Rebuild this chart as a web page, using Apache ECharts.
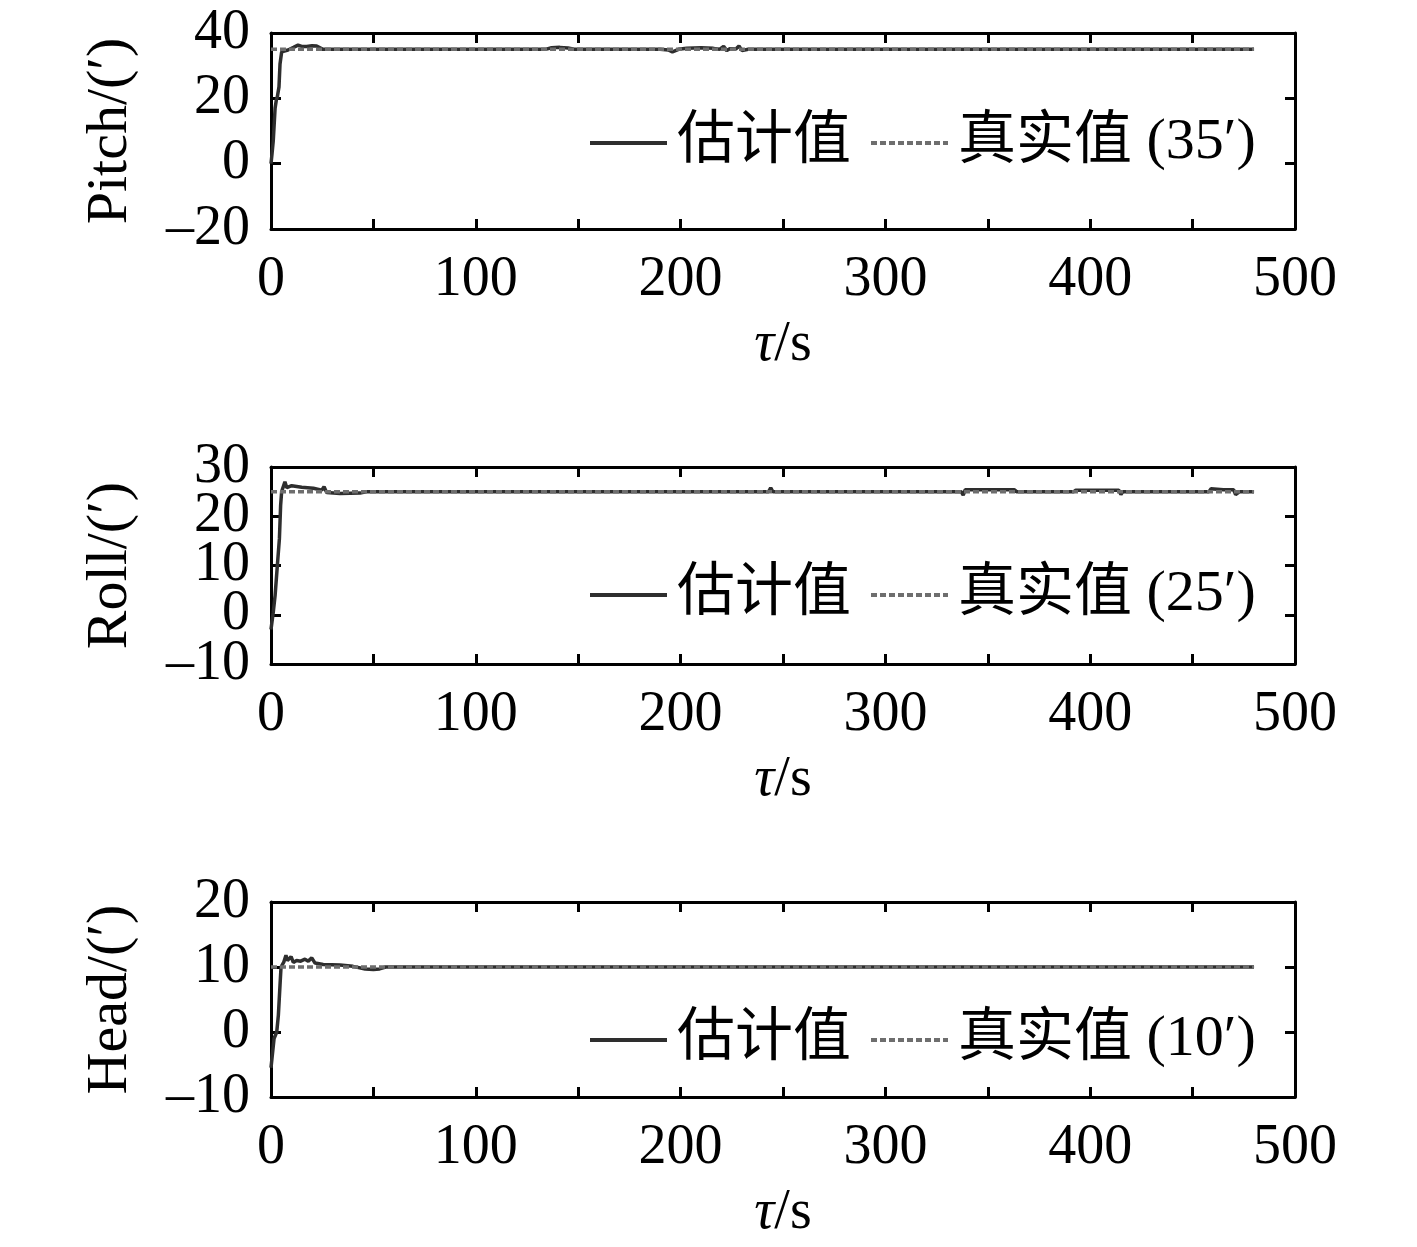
<!DOCTYPE html>
<html>
<head>
<meta charset="utf-8">
<title>Pitch / Roll / Head</title>
<script src="https://cdn.jsdelivr.net/npm/echarts@6/dist/echarts.min.js"></script>
<style>
html, body { margin: 0; padding: 0; background: #fff; }
#main { width: 1417px; height: 1247px; }
</style>
</head>
<body>
<div id="main"></div>
<script>
// 时间 (s) 与估计值 (′)
const pitchTime = [0, 0.5, 1.1, 2, 2.6, 3.1, 3.9, 4.4, 5.2, 8.3, 11, 13.2, 15, 17.4, 20, 22.3, 25.4, 30, 60, 100, 134, 137, 141, 145, 148, 190, 194, 196, 199, 203, 210, 216, 219, 221, 222.5, 224, 227, 228.5, 230, 233, 260, 320, 400, 480];
const pitchEst = [0, 3, 7, 17, 19.5, 20.5, 23.5, 30.5, 34.2, 34.8, 35.6, 36.3, 35.9, 35.9, 36.1, 36, 35, 35, 35, 35, 35, 35.5, 35.6, 35.4, 35, 35, 34.8, 34.2, 35, 35.3, 35.5, 35.3, 35, 35.9, 34.6, 35.2, 35.1, 36, 34.6, 35, 35, 35, 35, 35];

const rollTime = [0, 0.3, 1.1, 2, 3.1, 4.1, 4.7, 5.2, 6.8, 7.7, 10.1, 15, 20.7, 24.8, 25.9, 27.2, 33.7, 43.5, 47, 100, 200, 243, 244, 245, 300, 337, 338, 339, 350, 363, 364, 392, 393, 405, 414, 415, 416, 458, 459, 465, 470, 471, 473, 480];
const rollEst = [-3, -2.9, 0.5, 3.9, 10, 15.4, 22.2, 25, 27, 25.8, 26.2, 25.9, 25.7, 25.3, 26, 24.8, 24.6, 24.7, 25, 25, 25, 25, 25.8, 25, 25, 25, 24.3, 25.4, 25.4, 25.4, 25, 25, 25.3, 25.3, 25.3, 24.4, 25, 25, 25.6, 25.4, 25.4, 24.4, 25, 25];

const headTime = [0, 0.3, 1.5, 2.8, 3.6, 4.4, 4.9, 6.3, 7.3, 8, 9.8, 10.9, 12.5, 14.5, 16.6, 18.2, 19.9, 21.5, 25.5, 33.7, 40, 46, 50, 53, 56, 100, 200, 300, 400, 480];
const headEst = [-5.5, -5.3, -1, 0, 2.6, 7.2, 10, 10.8, 11.8, 11, 11.6, 10.7, 11, 10.9, 11.2, 10.9, 11.4, 10.6, 10.4, 10.3, 10.1, 9.7, 9.6, 9.7, 10, 10, 10, 10, 10, 10];

const trueVals = [35, 25, 10];
const tEnd = 480;
const yNames = ['Pitch/(′)', 'Roll/(′)', 'Head/(′)'];
const yTicks = [
    [-20, 0, 20, 40],
    [-10, 0, 10, 20, 30],
    [-10, 0, 10, 20]
];

const FONT = '"Liberation Serif", "Noto Sans CJK SC", serif';
const gridTops = [33, 467, 902];
const gridHeights = [196, 197, 195];
const legendTops = [109, 561, 1006];

const panels = [
    [pitchTime, pitchEst],
    [rollTime, rollEst],
    [headTime, headEst]
];

let myChart = echarts.init(document.getElementById('main'));

let option = {
    animation: false,
    backgroundColor: '#fff',
    grid: [],
    xAxis: [],
    yAxis: [],
    legend: [],
    series: []
};

const lineW = 3;
const txt = { fontSize: 56, fontFamily: FONT, color: '#000' };
const fmtY = v => String(v).replace('-', '–');

for (let i = 0; i < 3; i++) {
    option.grid.push({ left: 271, top: gridTops[i], width: 1024, height: gridHeights[i] });

    // 下方x轴 + 上方镜像x轴
    option.xAxis.push({
        gridIndex: i, type: 'value', min: 0, max: 500, interval: 50,
        axisLine: { onZero: false, lineStyle: { color: '#000', width: lineW } },
        axisTick: { inside: true, length: 10, lineStyle: { color: '#000', width: lineW } },
        axisLabel: Object.assign({ margin: 23, showMinLabel: true, showMaxLabel: true, formatter: v => (v % 100 === 0 ? String(v) : '') }, txt),
        splitLine: { show: false },
        name: '{i|τ}/s', nameLocation: 'middle', nameGap: 88,
        nameTextStyle: Object.assign({ rich: { i: { fontStyle: 'italic', fontSize: 56, fontFamily: FONT, color: '#000' } } }, txt)
    });
    option.xAxis.push({
        gridIndex: i, type: 'value', position: 'top', min: 0, max: 500, interval: 50,
        axisLine: { onZero: false, lineStyle: { color: '#000', width: lineW } },
        axisTick: { inside: true, length: 10, lineStyle: { color: '#000', width: lineW } },
        axisLabel: { show: false },
        splitLine: { show: false }
    });

    const ticks = yTicks[i];
    const yMin = ticks[0], yMax = ticks[ticks.length - 1];
    // 标签太密会被自动隐藏，拆到两个重叠的y轴上
    const labelsA = ticks.filter((v, k) => k % 2 === 0);
    const labelsB = ticks.filter((v, k) => k % 2 === 1);

    option.yAxis.push({
        gridIndex: i, type: 'value', min: yMin, max: yMax,
        axisLine: { show: true, onZero: false, lineStyle: { color: '#000', width: lineW } },
        axisTick: { show: true, inside: true, length: 10, customValues: ticks, lineStyle: { color: '#000', width: lineW } },
        axisLabel: Object.assign({ margin: 21, customValues: labelsA, showMinLabel: true, showMaxLabel: true, formatter: fmtY }, txt),
        splitLine: { show: false },
        name: yNames[i], nameLocation: 'middle', nameGap: 131, nameRotate: 90,
        nameTextStyle: Object.assign({}, txt, { fontSize: 58 })
    });
    option.yAxis.push({
        gridIndex: i, type: 'value', position: 'right', min: yMin, max: yMax,
        axisLine: { show: true, onZero: false, lineStyle: { color: '#000', width: lineW } },
        axisTick: { show: true, inside: true, length: 10, customValues: ticks, lineStyle: { color: '#000', width: lineW } },
        axisLabel: { show: false },
        splitLine: { show: false }
    });
    option.yAxis.push({
        gridIndex: i, type: 'value', position: 'left', offset: 0, min: yMin, max: yMax,
        axisLine: { show: false, onZero: false },
        axisTick: { show: false },
        axisLabel: Object.assign({ margin: 21, customValues: labelsB, showMinLabel: true, showMaxLabel: true, formatter: fmtY }, txt),
        splitLine: { show: false }
    });

    const times = panels[i][0];
    const est = panels[i][1];
    const trueName = '真实值 (' + trueVals[i] + '′)';

    option.series.push({
        name: '估计值', type: 'line', xAxisIndex: i * 2, yAxisIndex: i * 3,
        data: times.map((t, k) => [t, est[k]]),
        symbol: 'none', lineStyle: { color: '#2e2e2e', width: 3.5 }, itemStyle: { color: '#2e2e2e' }
    });
    option.series.push({
        name: trueName, type: 'line', xAxisIndex: i * 2, yAxisIndex: i * 3,
        data: [[0, trueVals[i]], [tEnd, trueVals[i]]],
        symbol: 'none', lineStyle: { color: '#6e6e6e', width: 3.5, type: [6, 3] }, itemStyle: { color: '#6e6e6e' }
    });

    option.legend.push({
        left: 583, top: legendTops[i], itemWidth: 77, itemHeight: 14, itemGap: 18,
        data: [
            { name: '估计值', itemStyle: { opacity: 0 }, lineStyle: { width: 4 } },
            { name: trueName, itemStyle: { opacity: 0 }, lineStyle: { width: 4 } }
        ],
        textStyle: { fontSize: 58, fontFamily: FONT, color: '#000', padding: [0, 0, 0, 5] }
    });
}

option && myChart.setOption(option);
</script>
</body>
</html>
